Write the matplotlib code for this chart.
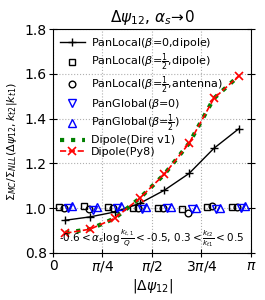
import numpy as np
import matplotlib
matplotlib.use("Agg")
import matplotlib.pyplot as plt

# bin centres of |Δψ12|
x_bins = [np.pi/16*(2*k+1) for k in range(8)]

panlocal_b0_dip = [0.946, 0.961, 0.983, 1.021, 1.080, 1.155, 1.267, 1.354]
panlocal_bh_dip = [1.005, 1.010, 1.003, 1.000, 1.000, 0.997, 1.003, 1.003]
panlocal_bh_ant = [1.000, 0.995, 1.000, 1.000, 1.000, 0.980, 1.008, 1.005]
panglobal_b0 = [1.000, 0.993, 1.000, 0.998, 1.000, 0.997, 0.998, 1.000]
panglobal_bh = [1.010, 1.005, 1.010, 1.005, 1.005, 1.000, 1.000, 1.010]
dire_v1 = [0.890, 0.906, 0.955, 1.044, 1.151, 1.290, 1.490, 1.590]
py8 = [0.888, 0.906, 0.955, 1.044, 1.151, 1.290, 1.490, 1.590]

xticks = [0, np.pi/4, np.pi/2, 3*np.pi/4, np.pi]
xticklabels = ["0", r"$\pi/4$", r"$\pi/2$", r"$3\pi/4$", r"$\pi$"]
yticks = [0.8, 1.0, 1.2, 1.4, 1.6, 1.8]

fig = plt.figure(figsize=(2.65, 3.0), dpi=100)
ax = fig.add_axes([0.2, 0.157, 0.747, 0.746])

xb = np.array(x_bins)
ax.plot(xb, panlocal_b0_dip, color="black", marker="+", ms=6, lw=1.0, mew=1.0,
        label=r"PanLocal($\beta$=0,dipole)")
ax.plot(xb-0.105, panlocal_bh_dip, ls="none", marker="s", ms=4.8, mfc="none",
        mec="black", mew=1.0, label=r"PanLocal($\beta$=$\frac{1}{2}$,dipole)")
ax.plot(xb-0.022, panlocal_bh_ant, ls="none", marker="o", ms=4.8, mfc="none",
        mec="black", mew=1.0, label=r"PanLocal($\beta$=$\frac{1}{2}$,antenna)")
ax.plot(xb+0.041, panglobal_b0, ls="none", marker="v", ms=5.5, mfc="none",
        mec="blue", mew=1.0, label=r"PanGlobal($\beta$=0)")
ax.plot(xb+0.105, panglobal_bh, ls="none", marker="^", ms=5.5, mfc="none",
        mec="blue", mew=1.0, label=r"PanGlobal($\beta$=$\frac{1}{2}$)")
ax.plot(xb, dire_v1, color="green", ls=":", lw=3, label="Dipole(Dire v1)")
ax.plot(xb, py8, color="red", ls="--", lw=1.2, marker="x", ms=6, mew=1.2,
        label="Dipole(Py8)")

ax.set_xlim(0, np.pi)
ax.set_ylim(0.8, 1.8)
ax.set_xticks(xticks)
ax.set_xticklabels(xticklabels, fontsize=10)
ax.set_yticks(yticks)
ax.set_yticklabels([f"{v:.1f}" for v in yticks], fontsize=10)
ax.tick_params(right=True, direction="inout", length=6, pad=1.5)
ax.grid(True, ls=":", color="#b0b0b0", lw=0.8)

ax.set_xlabel(r"$|\Delta\psi_{12}|$", fontsize=10, labelpad=2)
ax.set_ylabel(r"$\Sigma_{MC}/\Sigma_{NLL}(\Delta\psi_{12},k_{t2}|k_{t1})$", fontsize=8)
ax.set_title(r"$\Delta\psi_{12}$, $\alpha_s\!\to\!0$", fontsize=11, pad=5)

ax.legend(loc="upper left", fontsize=8, frameon=False, handlelength=2.2,
          borderaxespad=0.25, labelspacing=0.12, handletextpad=0.6)
ax.text(0.5, 0.065,
        r"-0.6$<\alpha_s\log\frac{k_{t,1}}{Q}<$-0.5, 0.3$<\frac{k_{t2}}{k_{t1}}<$0.5",
        transform=ax.transAxes, ha="center", va="center", fontsize=7.5)

fig.savefig("out.png", dpi=100)
